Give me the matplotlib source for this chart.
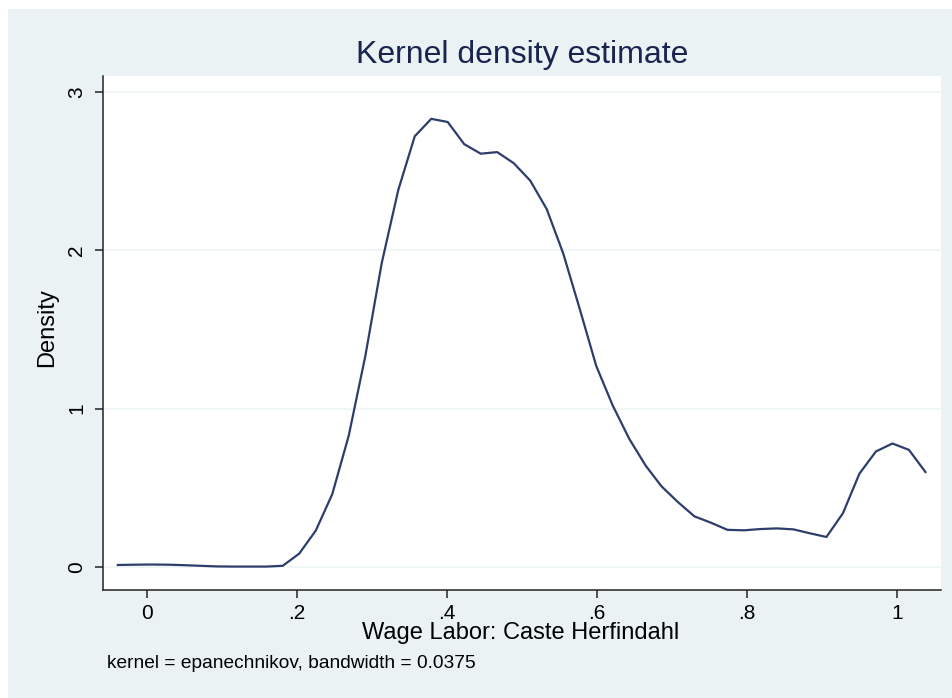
import matplotlib
matplotlib.use('agg')
import matplotlib.pyplot as plt
from matplotlib.patches import Rectangle

# kernel density estimate (50 points)
grid_x = [-0.039, -0.017, 0.005, 0.027, 0.049, 0.071, 0.093, 0.115, 0.137, 0.159,
          0.181, 0.203, 0.225, 0.247, 0.269, 0.291, 0.313, 0.335, 0.357, 0.379,
          0.401, 0.423, 0.445, 0.467, 0.489, 0.511, 0.533, 0.555, 0.577, 0.599,
          0.621, 0.643, 0.665, 0.686, 0.708, 0.730, 0.752, 0.774, 0.796, 0.818,
          0.840, 0.862, 0.884, 0.906, 0.928, 0.950, 0.972, 0.994, 1.016, 1.038]
density = [0.013, 0.015, 0.016, 0.015, 0.012, 0.008, 0.004, 0.003, 0.003, 0.003,
           0.008, 0.085, 0.23, 0.46, 0.83, 1.33, 1.92, 2.38, 2.72, 2.83,
           2.81, 2.67, 2.61, 2.62, 2.55, 2.44, 2.26, 1.98, 1.63, 1.27,
           1.02, 0.81, 0.64, 0.51, 0.41, 0.32, 0.28, 0.235, 0.232, 0.24,
           0.244, 0.238, 0.213, 0.19, 0.34, 0.59, 0.73, 0.78, 0.74, 0.60]

x_ticks = [0, 0.2, 0.4, 0.6, 0.8, 1.0]
x_ticklabels = ['0', '.2', '.4', '.6', '.8', '1']
y_ticks = [0, 1, 2, 3]
y_ticklabels = ['0', '1', '2', '3']

plt.rcParams['font.family'] = ['Liberation Sans', 'DejaVu Sans']

bg = '#eaf2f4'
navy = '#1a2450'
line_col = '#2e3e6c'

fig = plt.figure(figsize=(9.52, 6.98), dpi=100, facecolor='white')
# graph region (the picture has a thin white strip on the top and left)
fig.patches.append(Rectangle((8 / 952, 0), 1, 1 - 9 / 698, transform=fig.transFigure,
                             facecolor=bg, edgecolor='none', zorder=-10))

ax = fig.add_axes([0.1082, 0.1547, 0.8802, 0.7363])
ax.set_facecolor('white')

ax.plot(grid_x, density, color=line_col, lw=1.6)

ax.set_xlim(-0.0587, 1.0587)
ax.set_ylim(-0.145, 3.10)
ax.set_xticks(x_ticks)
ax.set_xticklabels(x_ticklabels)
ax.set_yticks(y_ticks)
ax.set_yticklabels(y_ticklabels, rotation=90, va='center')

for yv in y_ticks:
    ax.axhline(yv, color='#eef3f5', lw=1.2, zorder=0)

for s in ['top', 'right']:
    ax.spines[s].set_visible(False)
for s in ['left', 'bottom']:
    ax.spines[s].set_color('#222222')
    ax.spines[s].set_linewidth(1.1)

ax.tick_params(axis='both', direction='out', length=6, width=1.1, color='#222222',
               labelsize=15, labelcolor='black')
ax.tick_params(axis='x', pad=4)
ax.tick_params(axis='y', pad=6)

fig.text(0.548, 0.921, 'Kernel density estimate', ha='center', va='center',
         fontsize=23, color=navy)
fig.text(0.547, 0.093, 'Wage Labor: Caste Herfindahl', ha='center', va='center',
         fontsize=17, color='black')
fig.text(0.049, 0.53, 'Density', ha='center', va='center', rotation=90,
         fontsize=17, color='black')
fig.text(0.112, 0.049, 'kernel = epanechnikov, bandwidth = 0.0375', ha='left',
         va='center', fontsize=13.8, color='black')

fig.savefig('out.png', dpi=100, facecolor='white')
